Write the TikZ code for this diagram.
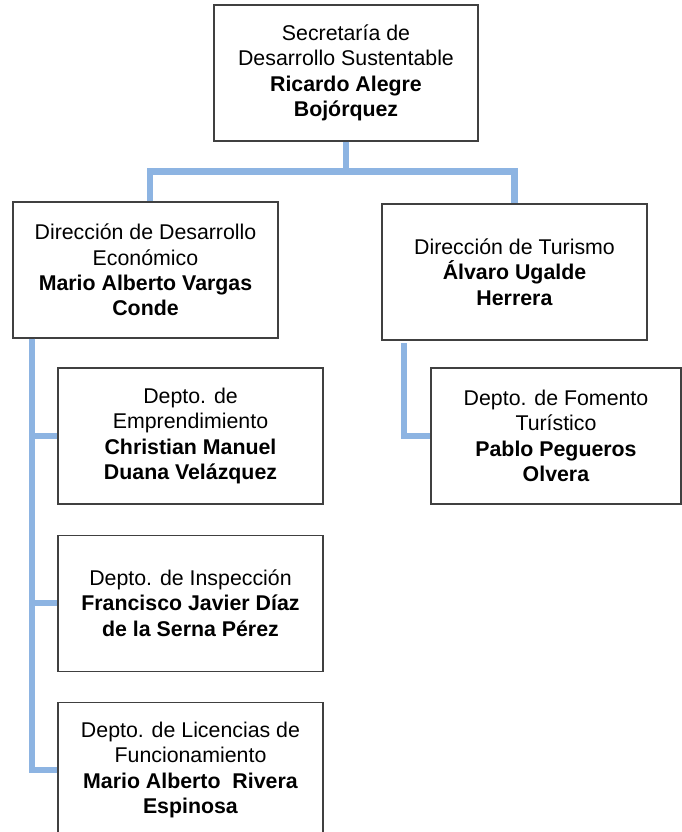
\documentclass[tikz,border=0pt]{standalone}
\usepackage{fontspec}
\setmainfont{Liberation Sans}
\usetikzlibrary{positioning}

\definecolor{linkblue}{RGB}{141,180,226}
\definecolor{boxgray}{RGB}{64,64,64}

\begin{document}
\begin{tikzpicture}[
		x=0.75pt, y=-0.75pt,
		node distance=22.5pt and 20pt,
		every node/.style={font=\fontsize{16}{19}\selectfont, align=center},
		unit/.style={draw=boxgray, line width=0.8pt, rectangle, minimum width=198.75pt, minimum height=102pt, inner sep=2pt},
		dept/.style={unit},
		link/.style={draw=linkblue, line width=4.6pt}
		]
		\useasboundingbox (0,0) rectangle (682,832);
		% Secretaria and its two directions
		\node[unit, minimum width=198pt] at (346,73) (sec) {Secretaría de\\Desarrollo Sustentable\\\textbf{Ricardo Alegre}\\\textbf{Bojórquez}};
		\node[unit] at (145.5,270) (dirEco) {Dirección de Desarrollo\\Económico\\\textbf{Mario Alberto Vargas}\\\textbf{Conde}};
		\node[unit] at (514.5,272) (dirTur) {Dirección de Turismo\\\textbf{Álvaro Ugalde}\\\textbf{Herrera}};
		% Departments
		\node[dept] at (190.5,436) (empr) {Depto. de\\Emprendimiento\\\textbf{Christian Manuel}\\\textbf{Duana Velázquez}};
		\node[dept, below = of empr] (insp) {Depto. de Inspección\\\textbf{Francisco Javier Díaz}\\\textbf{de la Serna Pérez}};
		\node[dept, below = of insp] (lic) {Depto. de Licencias de\\Funcionamiento\\\textbf{Mario Alberto~ Rivera}\\\textbf{Espinosa}};
		\node[dept, minimum width=187.5pt] at (556,436) (fom) {Depto. de Fomento\\Turístico\\\textbf{Pablo Pegueros}\\\textbf{Olvera}};
		\coordinate (trunkE) at (32,0);
		\coordinate (trunkT) at (404,0);
		\coordinate (dropE) at (150,0);

		% Draw the connectors
		\draw[link] (sec.south) -- ++(0,30) -| (dirTur.north);
		\draw[link] (sec.south) ++(0,30) -| (dirEco.north -| dropE);
		\draw[link] ([yshift=-2pt]dirEco.south -| trunkE) |- (lic.west);
		\draw[link] (dirEco.south -| trunkE) |- (empr.west);
		\draw[link] (dirEco.south -| trunkE) |- (insp.west);
		\draw[link] ([yshift=-2pt]dirTur.south -| trunkT) |- (fom.west);
	\end{tikzpicture}
\end{document}
